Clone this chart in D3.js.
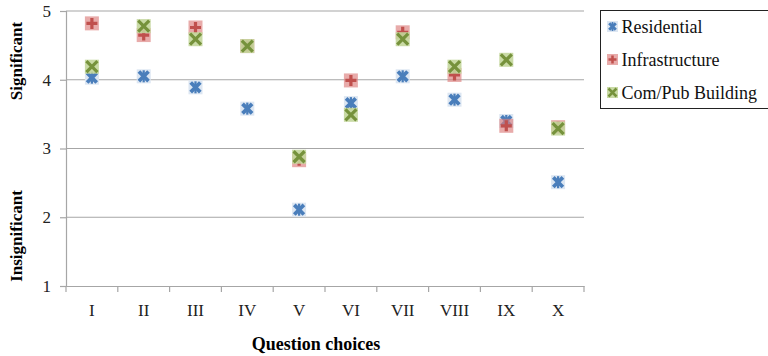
<!DOCTYPE html>
<html>
<head>
<meta charset="utf-8">
<script src="https://cdn.jsdelivr.net/npm/d3@7"></script>
<style>
  body { margin: 0; background: #fff; }
  svg text { font-family: "Liberation Serif", "DejaVu Serif", serif; }
</style>
</head>
<body>
<div id="chart"></div>
<script>
var questions = ["I", "II", "III", "IV", "V", "VI", "VII", "VIII", "IX", "X"];
var residential = [4.03, 4.05, 3.89, 3.58, 2.11, 3.66, 4.05, 3.71, 3.40, 2.51];
var infrastructure = [4.82, 4.65, 4.76, 4.49, 2.83, 3.99, 4.69, 4.07, 3.33, 3.31];
var comPub = [4.19, 4.78, 4.59, 4.49, 2.88, 3.49, 4.59, 4.19, 4.29, 3.29];
var yTicks = [1, 2, 3, 4, 5];
var seriesNames = ["Residential", "Infrastructure", "Com/Pub Building"];

var FONT = "'Liberation Serif', 'DejaVu Serif', serif";
var W = 768, H = 356;
var margin = {top: 11, right: 184, bottom: 70, left: 66},
    width = W - margin.left - margin.right,
    height = H - margin.top - margin.bottom;

var svg = d3.select("#chart").append("svg")
    .attr("width", W)
    .attr("height", H)
    .style("font-family", FONT);

var g = svg.append("g")
    .attr("transform", "translate(" + margin.left + "," + margin.top + ")");

var x = d3.scaleBand().domain(questions).range([0, width]);
var y = d3.scaleLinear().domain([1, 5]).range([height, 0]);

// gridlines
g.selectAll(".grid").data(yTicks.slice(1))
  .enter().append("line")
    .attr("x1", 0).attr("x2", width)
    .attr("y1", function(d) { return y(d); })
    .attr("y2", function(d) { return y(d); })
    .attr("stroke", "#a6a6a6")
    .attr("stroke-width", 1.2);

// y axis
var yAxis = g.append("g")
    .call(d3.axisLeft(y).tickValues(yTicks).tickSize(6).tickPadding(9).tickFormat(d3.format("d")));
yAxis.attr("font-family", FONT);
yAxis.select(".domain").attr("stroke", "#a6a6a6").attr("stroke-width", 1.2);
yAxis.selectAll(".tick line").attr("stroke", "#a6a6a6").attr("stroke-width", 1.2);
yAxis.selectAll("text").attr("font-size", 17).attr("fill", "#222");

// x axis, ticks on category boundaries
var xAxis = g.append("g")
    .attr("transform", "translate(0," + height + ")")
    .call(d3.axisBottom(x).tickSize(0).tickPadding(18));
xAxis.attr("font-family", FONT);
xAxis.select(".domain").attr("stroke", "#a6a6a6").attr("stroke-width", 1.2);
xAxis.selectAll("text").attr("font-size", 17).attr("fill", "#222");
var bounds = questions.map(function(q) { return x(q); }).concat([width]);
xAxis.selectAll(".bnd").data(bounds)
  .enter().append("line")
    .attr("x1", function(d) { return d; }).attr("x2", function(d) { return d; })
    .attr("y1", 0).attr("y2", 6)
    .attr("stroke", "#a6a6a6").attr("stroke-width", 1.2);

// axis titles
svg.append("text")
    .attr("transform", "translate(22,61) rotate(-90)")
    .attr("text-anchor", "middle")
    .attr("font-size", 17).attr("font-weight", "bold")
    .text("Significant");
svg.append("text")
    .attr("transform", "translate(22,236) rotate(-90)")
    .attr("text-anchor", "middle")
    .attr("font-size", 17).attr("font-weight", "bold")
    .text("Insignificant");
svg.append("text")
    .attr("x", 316).attr("y", 350)
    .attr("text-anchor", "middle")
    .attr("font-size", 18).attr("font-weight", "bold")
    .text("Question choices");

// markers
var S = 14;
function drawMarker(sel, type, size) {
  var h = size / 2;
  if (type === 0) {
    sel.append("rect").attr("x", -h).attr("y", -h).attr("width", size).attr("height", size)
      .attr("fill", "#dce6f2");
    var a = h - 2.2;
    sel.append("path")
      .attr("d", "M" + (-a) + "," + (-a) + "L" + a + "," + a + "M" + (-a) + "," + a + "L" + a + "," + (-a))
      .attr("stroke", "#4a7ebb").attr("stroke-width", size * 0.27).attr("fill", "none");
    sel.append("path")
      .attr("d", "M0," + (-h + 1) + "L0," + (h - 1))
      .attr("stroke", "#4a7ebb").attr("stroke-width", size * 0.16).attr("fill", "none");
  } else if (type === 1) {
    sel.append("rect").attr("x", -h).attr("y", -h).attr("width", size).attr("height", size)
      .attr("fill", "#dc7e7c").attr("opacity", 0.65);
    var b = h - 1.5;
    sel.append("path")
      .attr("d", "M" + (-b) + ",0L" + b + ",0M0," + (-b) + "L0," + b)
      .attr("stroke", "#c0504d").attr("stroke-width", size * 0.23).attr("fill", "none");
  } else {
    sel.append("rect").attr("x", -h).attr("y", -h).attr("width", size).attr("height", size)
      .attr("fill", "#c3d69b").attr("opacity", 0.9);
    var c = h - 1.5;
    sel.append("path")
      .attr("d", "M" + (-c) + "," + (-c) + "L" + c + "," + c + "M" + (-c) + "," + c + "L" + c + "," + (-c))
      .attr("stroke", "#76923c").attr("stroke-width", size * 0.23).attr("fill", "none");
  }
}

var allSeries = [residential, infrastructure, comPub];
allSeries.forEach(function(vals, si) {
  g.selectAll(".m" + si).data(vals)
    .enter().append("g")
      .attr("transform", function(d, i) {
        return "translate(" + (x(questions[i]) + x.bandwidth() / 2) + "," + y(d) + ")";
      })
      .each(function() { drawMarker(d3.select(this), si, S); });
});

// legend
var leg = svg.append("g").attr("transform", "translate(600.5,10.5)");
leg.append("rect").attr("width", 172).attr("height", 98)
    .attr("fill", "#fff").attr("stroke", "#222").attr("stroke-width", 1);
seriesNames.forEach(function(name, i) {
  var row = leg.append("g").attr("transform", "translate(0," + (16 + i * 33) + ")");
  var mk = row.append("g").attr("transform", "translate(12,0)");
  drawMarker(mk, i, 11);
  row.append("text").attr("x", 21).attr("y", 6)
    .attr("font-family", FONT)
    .attr("font-size", 18).attr("fill", "#111")
    .text(name);
});
</script>
</body>
</html>
